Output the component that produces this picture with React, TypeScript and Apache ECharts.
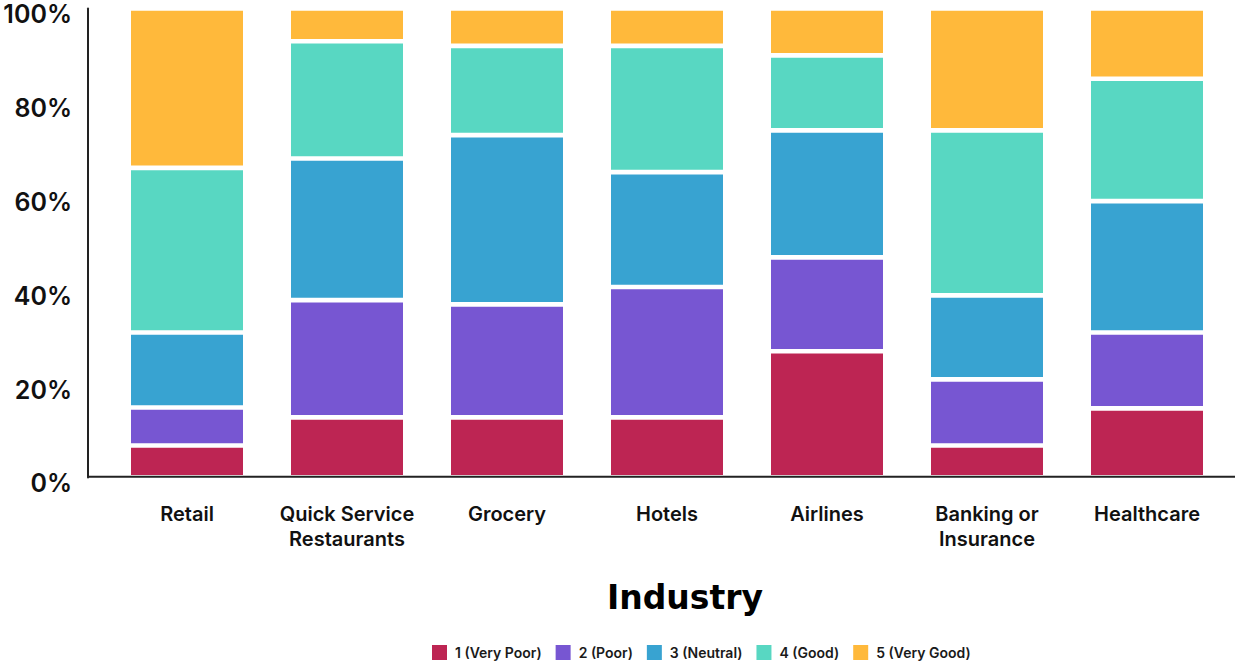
import { useEffect, useRef } from 'react'
import * as echarts from 'echarts'

const industries = ['Retail', 'Quick Service\nRestaurants', 'Grocery', 'Hotels', 'Airlines', 'Banking or\nInsurance', 'Healthcare']
const ratingNames = ['1 (Very Poor)', '2 (Poor)', '3 (Neutral)', '4 (Good)', '5 (Very Good)']
const ratingColors = ['#bd2553', '#7756d2', '#38a3d1', '#58d7c2', '#ffb93b']

const veryPoor = [6.8, 12.8, 12.8, 12.8, 26.9, 6.8, 14.7]
const poor = [8.1, 25.0, 24.1, 27.8, 20.0, 14.1, 16.2]
const neutral = [16.0, 30.2, 36.1, 24.5, 27.1, 17.9, 28.0]
const good = [35.1, 25.0, 19.0, 26.9, 16.0, 35.2, 26.1]
const veryGood = [34.0, 7.0, 8.0, 8.0, 10.0, 26.0, 15.0]

const ratingValues = [veryPoor, poor, neutral, good, veryGood]
const yTicks = [0, 20, 40, 60, 80, 100]

export default function App() {
  const chartRef = useRef<HTMLDivElement>(null)

  useEffect(() => {
    if (!chartRef.current) return
    document.body.style.margin = '0'
    const chart = echarts.init(chartRef.current, undefined, { renderer: 'svg' })

    const option = {
      animation: false,
      backgroundColor: '#fff',
      textStyle: { fontFamily: 'Inter, "Noto Sans", sans-serif' },
      grid: { left: 107, right: 9, top: 8.4, height: 469 },
      legend: {
        left: 432,
        top: 645,
        padding: 0,
        itemWidth: 15,
        itemHeight: 15,
        itemGap: 14,
        icon: 'rect',
        itemStyle: { borderWidth: 0 },
        textStyle: { fontSize: 14, fontWeight: 600, color: '#1a1a1a', lineHeight: 15, padding: [0, 0, 0, 3] },
        data: ratingNames,
      },
      xAxis: {
        type: 'category',
        data: industries,
        axisLine: { show: false },
        axisTick: { show: false },
        axisLabel: { interval: 0, margin: 24, fontSize: 20, fontWeight: 600, color: '#111', lineHeight: 25 },
      },
      yAxis: {
        type: 'value',
        min: 0,
        max: 100,
        interval: 20,
        offset: 19,
        splitLine: { show: false },
        axisLine: { show: true, lineStyle: { color: '#222', width: 2 } },
        axisTick: { show: false },
        axisLabel: {
          margin: 16,
          fontSize: 25,
          fontWeight: 600,
          color: '#111',
          verticalAlign: 'top',
          lineHeight: 12,
          formatter: (v: number) => (yTicks.includes(v) ? v + '%' : ''),
        },
      },
      graphic: [
        {
          type: 'line',
          z: 100,
          shape: { x1: 88, y1: 476.8, x2: 1235, y2: 476.8 },
          style: { stroke: '#222', lineWidth: 2 },
        },
        {
          type: 'text',
          x: 685,
          y: 597,
          style: {
            text: 'Industry',
            fill: '#000',
            font: 'bold 33px "DejaVu Sans", sans-serif',
            textAlign: 'center',
            textVerticalAlign: 'middle',
          },
        },
      ],
      series: ratingNames.map((name, i) => ({
        name,
        type: 'bar',
        stack: 'total',
        barWidth: 116.7,
        data: ratingValues[i],
        itemStyle: { color: ratingColors[i], borderColor: '#fff', borderWidth: 2.35 },
      })),
    }

    chart.setOption(option)
    return () => {
      chart.dispose()
    }
  }, [])

  return <div ref={chartRef} style={{ position: 'fixed', left: 0, top: 0, width: 1236, height: 662 }} />
}
